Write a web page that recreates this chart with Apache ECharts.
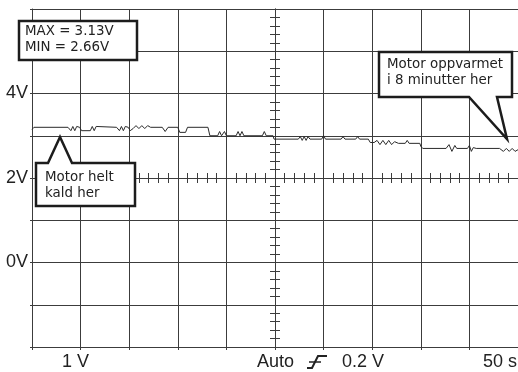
<!DOCTYPE html>
<html>
<head>
<meta charset="utf-8">
<script src="https://cdn.jsdelivr.net/npm/echarts@6/dist/echarts.min.js"></script>
<style>
html,body{margin:0;padding:0;background:#fff;}
#c{width:518px;height:372px;}
</style>
</head>
<body>
<div id="c"></div>
<script>
// Time axis (seconds, 50 s/div) and voltage axis (1 V/div)
const timeSec = [0,2,37,40,42,44,46,49,51,60,62,64,66,68,87,90,92,94,96,99,101,104,107,110,113,116,119,122,134,137,140,150,152,158,160,181,183,191,193,195,198,200,210,212,214,216,218,237,239,241,248,249,274,276,278,280,282,284,286,298,300,302,318,320,322,333,335,337,346,348,352,355,358,361,364,367,370,373,377,384,386,388,399,400,402,426,429,432,435,437,448,450,452,454,457,481,485,488,491,494,497,500];
const volts = [3.15,3.20,3.20,3.12,3.22,3.12,3.22,3.20,3.12,3.12,3.22,3.12,3.22,3.20,3.20,3.12,3.22,3.12,3.22,3.20,3.12,3.17,3.24,3.17,3.24,3.17,3.24,3.20,3.20,3.10,3.20,3.20,3.08,3.08,3.20,3.20,3.00,3.00,3.10,3.00,3.10,3.00,3.00,3.10,3.00,3.10,3.00,3.00,3.10,3.00,3.00,2.92,2.92,2.98,2.89,2.98,2.89,2.98,2.92,2.92,3.00,2.92,2.92,2.98,2.92,2.92,2.98,2.92,2.92,2.84,2.84,2.89,2.79,2.89,2.79,2.89,2.79,2.86,2.82,2.82,2.89,2.82,2.82,2.75,2.70,2.70,2.79,2.63,2.77,2.70,2.70,2.77,2.63,2.72,2.70,2.70,2.63,2.70,2.63,2.70,2.63,2.67];

const yTickValues = [0, 2, 4];
const yTickTexts = ['0V', '2V', '4V'];
const statusTexts = ['1 V', 'Auto', '0.2 V', '50 s'];
const measureTexts = ['MAX = 3.13V', 'MIN = 2.66V'];
const coldNote = ['Motor helt', 'kald her'];
const warmNote = ['Motor oppvarmet', 'i 8 minutter her'];

const GRID = '#3c3c3c';
const INK = '#1c1c1c';

const traceData = timeSec.map((t, i) => [t, volts[i]]);

function centerXAxis(inside) {
  return {
    type: 'value', min: -250, max: 250, interval: 50, position: 'top',
    axisLine: {show: true, onZero: true, onZeroAxisIndex: 1, lineStyle: {color: GRID, width: 1}},
    axisTick: {show: false, inside: inside},
    minorTick: {show: true, splitNumber: 5, length: 5, lineStyle: {color: GRID, width: 1}},
    axisLabel: {show: false}, splitLine: {show: false}, minorSplitLine: {show: false}
  };
}
function centerYAxis(inside) {
  return {
    type: 'value', min: -4, max: 4, interval: 1, position: 'right',
    axisLine: {show: true, onZero: true, onZeroAxisIndex: 1, lineStyle: {color: GRID, width: 1}},
    axisTick: {show: false, inside: inside},
    minorTick: {show: true, splitNumber: 5, length: 5, lineStyle: {color: GRID, width: 1}},
    axisLabel: {show: false}, splitLine: {show: false}, minorSplitLine: {show: false}
  };
}

const lblFont = '18px "Liberation Sans", Arial, sans-serif';
const noteFont = '13.4px "DejaVu Sans", Verdana, sans-serif';

const chart = echarts.init(document.getElementById('c'), null, {renderer: 'canvas'});
chart.setOption({
  animation: false,
  backgroundColor: '#fff',
  grid: {left: 32, right: 0, top: 9, bottom: 25, containLabel: false},
  xAxis: [
    {
      type: 'value', min: 0, max: 500, interval: 50,
      axisLine: {show: true, onZero: false, lineStyle: {color: GRID, width: 1}},
      axisTick: {show: true, length: 3, lineStyle: {color: GRID}},
      axisLabel: {show: false},
      splitLine: {show: true, lineStyle: {color: GRID, width: 1}}
    },
    centerXAxis(true),
    centerXAxis(false)
  ],
  yAxis: [
    {
      type: 'value', min: -2, max: 6, interval: 1,
      axisLine: {show: true, onZero: false, lineStyle: {color: GRID, width: 1}},
      axisTick: {show: true, length: 2, lineStyle: {color: GRID}},
      axisLabel: {
        show: true, margin: 4, color: '#222',
        fontFamily: '"Liberation Sans", Arial, sans-serif', fontSize: 18,
        formatter: function (v) {
          const k = yTickValues.indexOf(v);
          return k >= 0 ? yTickTexts[k] : '';
        }
      },
      splitLine: {show: true, lineStyle: {color: GRID, width: 1}}
    },
    centerYAxis(true),
    centerYAxis(false)
  ],
  series: [{
    type: 'line', xAxisIndex: 0, yAxisIndex: 0,
    data: traceData, showSymbol: false, symbol: 'none',
    lineStyle: {color: '#2a2a2a', width: 1}, z: 5
  }],
  graphic: [
    {type: 'rect', shape: {x: 19, y: 21, width: 118, height: 39},
     style: {fill: '#fff', stroke: INK, lineWidth: 2.5}, z: 100},
    {type: 'text', x: 25, y: 32, style: {text: measureTexts[0], font: noteFont, fill: '#222', verticalAlign: 'middle'}, z: 101},
    {type: 'text', x: 25, y: 48, style: {text: measureTexts[1], font: noteFont, fill: '#222', verticalAlign: 'middle'}, z: 101},

    {type: 'polygon', shape: {points: [[36,163],[48,163],[60,137],[72,163],[135,163],[135,206],[36,206]]},
     style: {fill: '#fff', stroke: INK, lineWidth: 2.5, lineJoin: 'miter'}, z: 100},
    {type: 'text', x: 45, y: 178, style: {text: coldNote[0], font: noteFont, fill: '#222', verticalAlign: 'middle'}, z: 101},
    {type: 'text', x: 45, y: 194, style: {text: coldNote[1], font: noteFont, fill: '#222', verticalAlign: 'middle'}, z: 101},

    {type: 'polygon', shape: {points: [[379,52],[512,52],[512,97],[497,97],[507,139],[469,97],[379,97]]},
     style: {fill: '#fff', stroke: INK, lineWidth: 2.5, lineJoin: 'miter'}, z: 100},
    {type: 'text', x: 387, y: 65, style: {text: warmNote[0], font: noteFont, fill: '#222', verticalAlign: 'middle'}, z: 101},
    {type: 'text', x: 387, y: 81, style: {text: warmNote[1], font: noteFont, fill: '#222', verticalAlign: 'middle'}, z: 101},

    {type: 'text', x: 62, y: 362, style: {text: statusTexts[0], font: lblFont, fill: '#222', verticalAlign: 'middle'}, z: 101},
    {type: 'text', x: 257, y: 362, style: {text: statusTexts[1], font: lblFont, fill: '#222', verticalAlign: 'middle'}, z: 101},
    {type: 'polyline', shape: {points: [[307,368],[312,368],[318,356],[327,356]]},
     style: {stroke: '#222', lineWidth: 2, fill: null}, z: 101},
    {type: 'line', shape: {x1: 309, y1: 362, x2: 321, y2: 362}, style: {stroke: '#222', lineWidth: 1.5}, z: 101},
    {type: 'text', x: 342, y: 362, style: {text: statusTexts[2], font: lblFont, fill: '#222', verticalAlign: 'middle'}, z: 101},
    {type: 'text', x: 517, y: 362, style: {text: statusTexts[3], font: lblFont, fill: '#222', verticalAlign: 'middle', align: 'right'}, z: 101}
  ]
});
</script>
</body>
</html>
